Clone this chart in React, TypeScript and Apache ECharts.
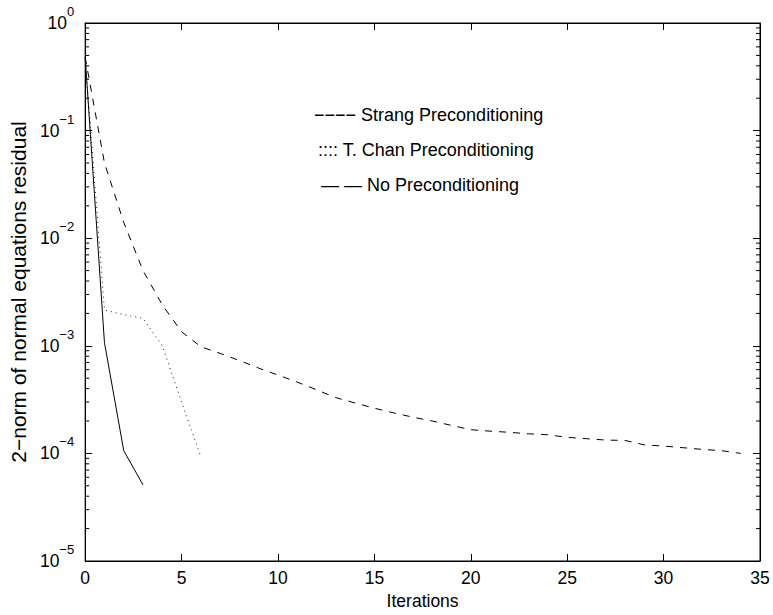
import React, { useEffect, useRef } from "react";
import * as echarts from "echarts";

// ---- data ----
const strangIter = [0, 1, 2, 3];
const strangResidual = [0.48, 1.07e-3, 1.06e-4, 5.1e-5];

const tchanIter = [0, 1, 2, 3, 4, 5, 6];
const tchanResidual = [0.48, 2.15e-3, 1.95e-3, 1.8e-3, 1.0e-3, 3.0e-4, 9.3e-5];

const noneIter = Array.from({ length: 35 }, (_, i) => i);
const noneResidual = [
  0.48, 5.0e-2, 1.4e-2, 5.0e-3, 2.4e-3, 1.35e-3, 9.8e-4, 8.5e-4, 7.3e-4, 6.2e-4,
  5.35e-4, 4.6e-4, 3.9e-4, 3.3e-4, 2.94e-4, 2.63e-4, 2.38e-4, 2.17e-4, 2.0e-4, 1.82e-4,
  1.66e-4, 1.61e-4, 1.57e-4, 1.52e-4, 1.49e-4, 1.41e-4, 1.37e-4, 1.33e-4, 1.32e-4, 1.2e-4,
  1.17e-4, 1.13e-4, 1.09e-4, 1.06e-4, 1.0e-4,
];

const legendTexts = [
  "−−−− Strang Preconditioning",
  ":::: T. Chan Preconditioning",
  "— — No Preconditioning",
];

const xTitle = "Iterations";
const yTitle = "2−norm of normal equations residual";

const X_MIN = 0;
const X_MAX = 35;
const X_STEP = 5;
const Y_MIN = 1e-5;
const Y_MAX = 1;
const decadeExponents = [-5, -4, -3, -2, -1];
const minorMultipliers = [2, 3, 4, 5, 6, 7, 8, 9];

const FONT = "'Liberation Sans', Arial, Helvetica, sans-serif";

const zip = (xs: number[], ys: number[]) => xs.map((x, i) => [x, ys[i]]);

export default function App() {
  const ref = useRef<HTMLDivElement>(null);

  useEffect(() => {
    if (!ref.current) return;
    const chart = echarts.init(ref.current, null, { renderer: "svg" });

    const minorData: number[][] = [];
    decadeExponents.forEach((e) =>
      minorMultipliers.forEach((m) => minorData.push([X_MIN, m * Math.pow(10, e)]))
    );

    const axisLineStyle = { color: "#000", width: 1 };
    const tickStyle = { color: "#000", width: 1 };

    const legendGraphic = legendTexts.map((t, i) => ({
      type: "text",
      x: [314, 318, 321][i],
      y: [115, 150, 185][i],
      style: {
        text: t,
        fontSize: 18,
        fontFamily: FONT,
        fill: "#000",
        verticalAlign: "middle",
        align: "left",
      },
    }));

    const option: any = {
      animation: false,
      backgroundColor: "#fff",
      textStyle: { fontFamily: FONT },
      grid: {
        left: 74,
        right: 13,
        top: 23,
        bottom: 50,
        containLabel: false,
        show: true,
        borderColor: "#000",
        borderWidth: 1,
        backgroundColor: "transparent",
      },
      xAxis: [
        {
          type: "value",
          min: X_MIN,
          max: X_MAX,
          interval: X_STEP,
          position: "bottom",
          name: xTitle,
          nameLocation: "middle",
          nameGap: 31,
          nameTextStyle: { color: "#000", fontSize: 17.5, fontFamily: FONT },
          axisLine: { show: true, onZero: false, lineStyle: axisLineStyle },
          axisTick: { show: true, inside: true, length: 7, lineStyle: tickStyle },
          axisLabel: { color: "#000", fontSize: 17.5, fontFamily: FONT, margin: 8 },
          splitLine: { show: false },
        },
        {
          type: "value",
          min: X_MIN,
          max: X_MAX,
          interval: X_STEP,
          position: "top",
          axisLine: { show: true, onZero: false, lineStyle: axisLineStyle },
          axisTick: { show: true, inside: true, length: 7, lineStyle: tickStyle },
          axisLabel: { show: false },
          splitLine: { show: false },
        },
      ],
      yAxis: [
        {
          type: "log",
          logBase: 10,
          min: Y_MIN,
          max: Y_MAX,
          position: "left",
          name: yTitle,
          nameLocation: "middle",
          nameGap: 41,
          nameTextStyle: { color: "#000", fontSize: 21, fontFamily: FONT },
          axisLine: { show: true, onZero: false, lineStyle: axisLineStyle },
          axisTick: { show: true, inside: true, length: 7, lineStyle: tickStyle },
          axisLabel: {
            color: "#000",
            margin: 11,
            fontFamily: FONT,
            formatter: (v: number) => {
              const e = Math.round(Math.log10(v));
              const s = e < 0 ? "−" + Math.abs(e) : String(e);
              return "{b|10}{s|" + s + "}";
            },
            rich: {
              b: { fontSize: 17.5, fontFamily: FONT, color: "#000", verticalAlign: "middle" },
              s: { fontSize: 13, fontFamily: FONT, color: "#000", lineHeight: 36, verticalAlign: "top" },
            },
          },
          splitLine: { show: false },
        },
        {
          type: "log",
          logBase: 10,
          min: Y_MIN,
          max: Y_MAX,
          position: "right",
          axisLine: { show: true, onZero: false, lineStyle: axisLineStyle },
          axisTick: { show: true, inside: true, length: 7, lineStyle: tickStyle },
          axisLabel: { show: false },
          splitLine: { show: false },
        },
      ],
      series: [
        {
          type: "custom",
          silent: true,
          xAxisIndex: 0,
          yAxisIndex: 0,
          data: minorData,
          clip: false,
          renderItem: (params: any, api: any) => {
            const v = api.value(1);
            const l = api.coord([X_MIN, v]);
            const r = api.coord([X_MAX, v]);
            const st = { stroke: "#000", lineWidth: 1 };
            return {
              type: "group",
              children: [
                { type: "line", shape: { x1: l[0], y1: l[1], x2: l[0] + 4, y2: l[1] }, style: st },
                { type: "line", shape: { x1: r[0], y1: r[1], x2: r[0] - 4, y2: r[1] }, style: st },
              ],
            };
          },
        },
        {
          name: "Strang",
          type: "line",
          data: zip(strangIter, strangResidual),
          showSymbol: false,
          symbol: "none",
          lineStyle: { color: "#000", width: 1, type: "solid" },
        },
        {
          name: "T. Chan",
          type: "line",
          data: zip(tchanIter, tchanResidual),
          showSymbol: false,
          symbol: "none",
          lineStyle: { color: "#222", width: 1, type: [1, 4] },
        },
        {
          name: "None",
          type: "line",
          data: zip(noneIter, noneResidual),
          showSymbol: false,
          symbol: "none",
          lineStyle: { color: "#000", width: 1, type: [7, 7] },
        },
      ],
      graphic: legendGraphic,
    };

    chart.setOption(option);
    return () => chart.dispose();
  }, []);

  return (
    <div
      ref={ref}
      style={{ position: "fixed", left: 0, top: 0, width: 773, height: 615 }}
    />
  );
}
